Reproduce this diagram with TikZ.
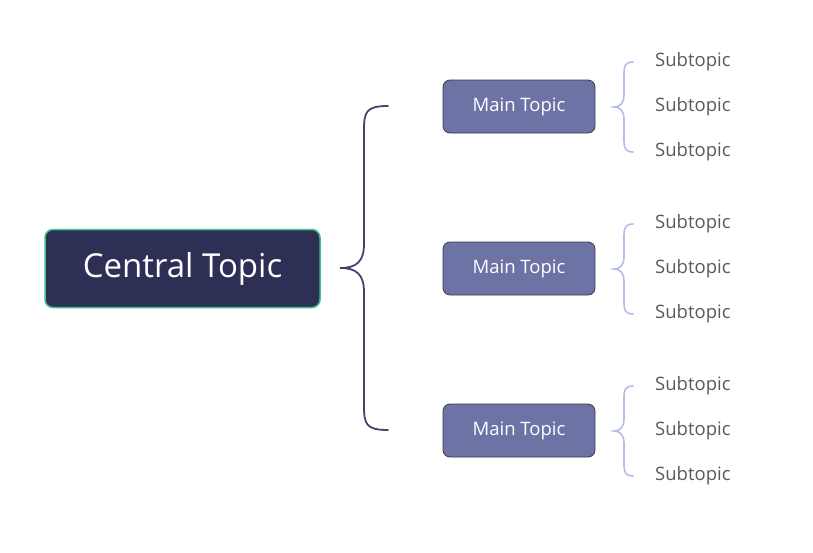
\documentclass[tikz,border=0pt]{standalone}
\usepackage{fontspec}
\setmainfont{Open Sans}
\definecolor{cbg}{HTML}{2D2F55}
\definecolor{cgreen}{HTML}{3FBF8A}
\definecolor{mfill}{HTML}{6E73A6}
\definecolor{mdraw}{HTML}{3A3A4A}
\definecolor{bigb}{HTML}{3F4571}
\definecolor{smallb}{HTML}{B3BCEE}
\definecolor{subc}{HTML}{5A5A5A}
\tikzset{
 central/.style={draw=cgreen,line width=1.5pt,fill=cbg,rounded corners=8pt,minimum width=275pt,minimum height=78pt,text=white,font=\fontsize{33}{36}\selectfont},
 mainbox/.style={draw=mdraw,line width=0.8pt,fill=mfill,rounded corners=7pt,minimum width=152pt,minimum height=53pt,text=white,font=\fontsize{18.5}{22}\selectfont},
 subt/.style={anchor=west,text=subc,font=\fontsize{18.5}{22}\selectfont,inner sep=0pt},
 bigbrace/.style={draw=bigb,line width=1.8pt},
 smallbrace/.style={draw=smallb,line width=1.6pt}
}
\begin{document}
\begin{tikzpicture}[x=1pt,y=-1pt]
\useasboundingbox (0,0) rectangle (813,552);
\node[central] (c) at (182.5,268.5) {Central Topic};
\node[mainbox] (m1) at (519,106.5) {Main Topic};
\node[mainbox] (m2) at (519,268.5) {Main Topic};
\node[mainbox] (m3) at (519,430.5) {Main Topic};
\coordinate (bt) at (388,106);
\coordinate (bb) at (388,430);
\coordinate (bm) at (340,268);
\draw[bigbrace,line cap=round] (bt) .. controls (366,106) and (364,112) .. (364,130) -- (364,244)
  .. controls (364,262) and (356,268) .. (bm)
  .. controls (356,268) and (364,274) .. (364,292) -- (364,406)
  .. controls (364,424) and (366,430) .. (bb);
\foreach \k/\y in {1/107,2/269,3/431}{
  \coordinate (st\k) at (633,\y-45);
  \coordinate (sb\k) at (633,\y+45);
  \coordinate (sm\k) at (614,\y);
  \draw[smallbrace,line cap=round] (st\k) .. controls (625,\y-45) and (624,\y-41) .. (624,\y-33) -- (624,\y-12)
   .. controls (624,\y-4) and (620,\y) .. (sm\k)
   .. controls (620,\y) and (624,\y+4) .. (624,\y+12) -- (624,\y+33)
   .. controls (624,\y+41) and (625,\y+45) .. (sb\k);
  \node[subt] (s\k a) at (655,\y-45) {Subtopic};
  \node[subt] (s\k b) at (655,\y) {Subtopic};
  \node[subt] (s\k c) at (655,\y+45) {Subtopic};
}
\end{tikzpicture}
\end{document}
